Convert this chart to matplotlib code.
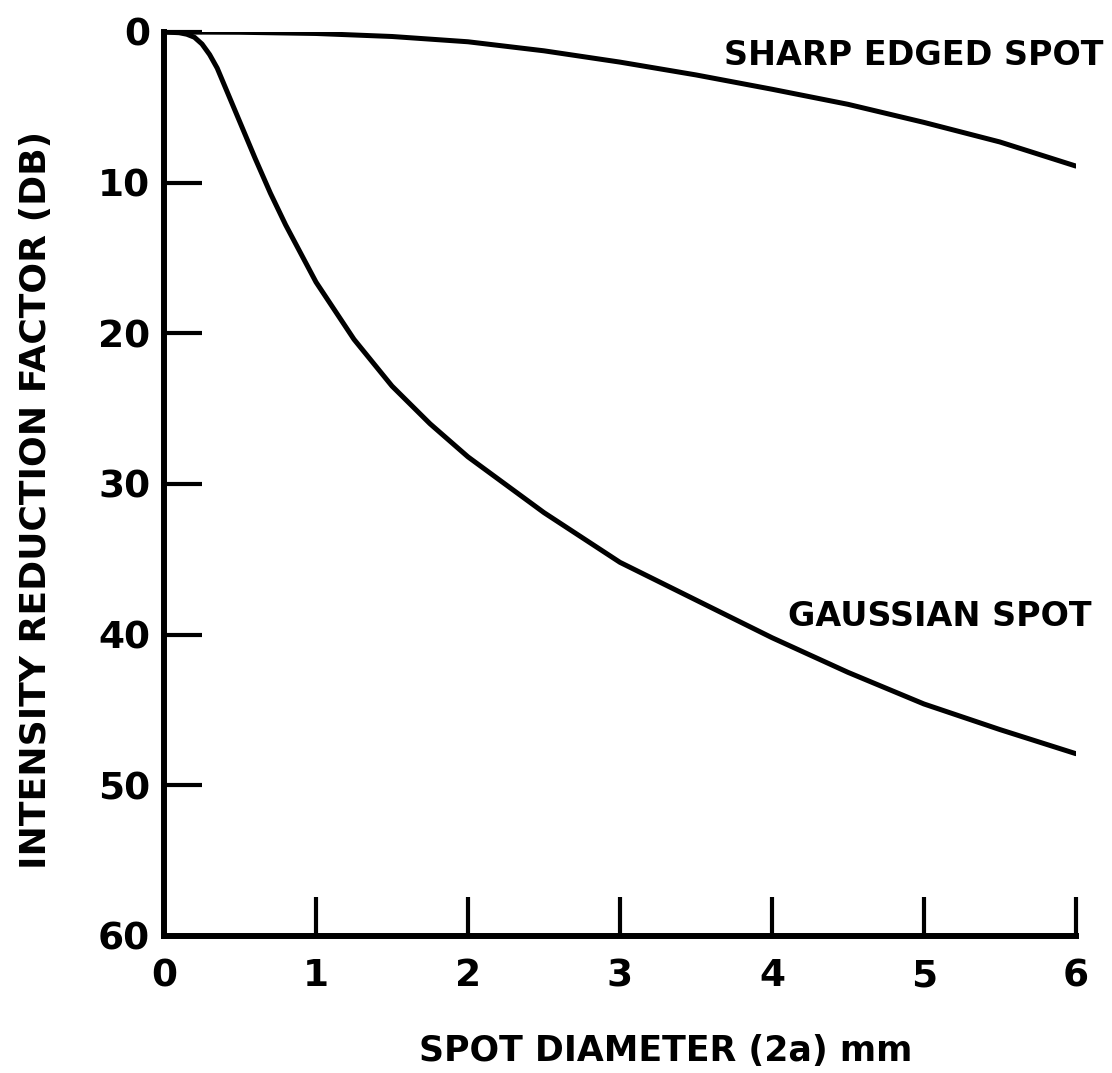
import matplotlib.pyplot as plt

# values
sharp_x = [0.0, 0.5, 1.0, 1.5, 2.0, 2.5, 3.0, 3.5, 4.0, 4.5, 5.0, 5.5, 6.0]
sharp_db = [0.0, 0.02, 0.1, 0.3, 0.65, 1.25, 2.0, 2.85, 3.8, 4.8, 6.0, 7.3, 8.9]

gauss_x = [0.0, 0.1, 0.15, 0.2, 0.25, 0.3, 0.35, 0.4, 0.5, 0.6, 0.7, 0.8, 0.9,
           1.0, 1.25, 1.5, 1.75, 2.0, 2.5, 3.0, 3.5, 4.0, 4.5, 5.0, 5.5, 6.0]
gauss_db = [0.0, 0.05, 0.15, 0.35, 0.8, 1.5, 2.4, 3.6, 6.0, 8.4, 10.7, 12.8,
            14.7, 16.6, 20.4, 23.5, 26.0, 28.2, 31.9, 35.2, 37.7, 40.2, 42.5,
            44.6, 46.3, 47.9]

x_ticks = [0, 1, 2, 3, 4, 5, 6]
y_ticks = [0, 10, 20, 30, 40, 50, 60]

plt.rcParams["font.family"] = "DejaVu Sans"
plt.rcParams["font.weight"] = "bold"
plt.rcParams["axes.labelweight"] = "bold"

fig = plt.figure(figsize=(11.12, 10.73), dpi=100)
ax = fig.add_axes([0.1475, 0.1277, 0.82, 0.8425])

ax.plot(sharp_x, sharp_db, color="black", lw=3.6, solid_capstyle="round",
        solid_joinstyle="round")
ax.plot(gauss_x, gauss_db, color="black", lw=3.6, solid_capstyle="round",
        solid_joinstyle="round")

ax.set_xlim(0, 6)
ax.set_ylim(60, 0)
ax.set_xticks(x_ticks)
ax.set_yticks(y_ticks)

for side in ["top", "right"]:
    ax.spines[side].set_visible(False)
for side in ["left", "bottom"]:
    ax.spines[side].set_linewidth(4.3)

ax.tick_params(axis="x", direction="in", length=28, width=3.0, pad=16, labelsize=27)
ax.tick_params(axis="y", direction="in", length=27, width=3.0, pad=10, labelsize=27)

ax.text(6.18, 2.2, "SHARP EDGED SPOT", ha="right", va="baseline", fontsize=24)
ax.text(6.1, 39.4, "GAUSSIAN SPOT", ha="right", va="baseline", fontsize=24)

ax.set_xlabel("SPOT DIAMETER (2a) mm", fontsize=25)
ax.xaxis.set_label_coords(0.55, -0.108)
ax.set_ylabel("INTENSITY REDUCTION FACTOR (DB)", fontsize=26)
ax.yaxis.set_label_coords(-0.122, 0.482)

fig.savefig("out.png", dpi=100)
